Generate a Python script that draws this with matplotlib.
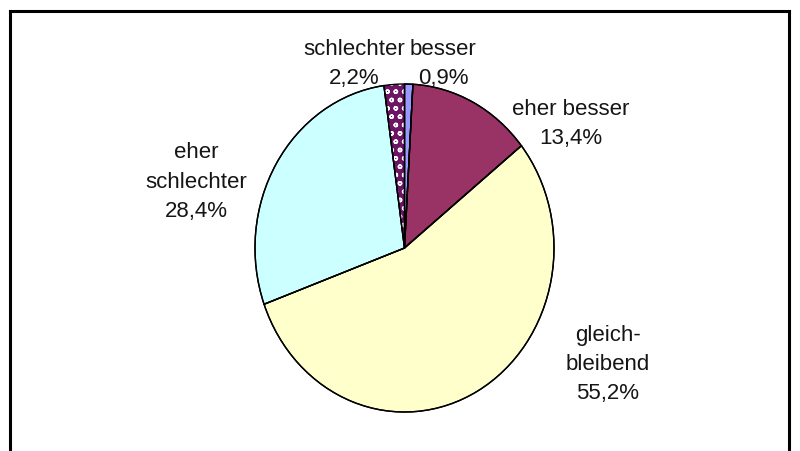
import matplotlib
matplotlib.use("Agg")
import matplotlib.pyplot as plt
from matplotlib.lines import Line2D

plt.rcParams['font.family'] = ['Liberation Sans', 'DejaVu Sans']

# daten (im uhrzeigersinn ab 12 uhr)
categories = ['besser', 'eher besser', 'gleich-\nbleibend', 'eher\nschlechter', 'schlechter']
values = [0.9, 13.4, 55.2, 28.4, 2.2]
colors = ['#9999ff', '#993366', '#ffffcc', '#ccffff', '#ffffff']

W, H = 800, 451
fig = plt.figure(figsize=(W / 100, H / 100), dpi=100)
fig.patch.set_facecolor('white')

# pie etwas hoeher als breit (wie im original)
px_left, px_right, px_top, px_bottom = 255, 554, 84, 412
ax = fig.add_axes([px_left / W, (H - px_bottom) / H,
                   (px_right - px_left) / W, (px_bottom - px_top) / H])
wedges, _ = ax.pie(values, colors=colors, startangle=90, counterclock=False,
                   wedgeprops=dict(edgecolor='black', linewidth=1.0))

# gepunktetes muster fuer "schlechter"
wedges[4].set_facecolor('#6e1466')
wedges[4].set_edgecolor('#ffffff')
wedges[4].set_hatch('oo')
wedges[4].set_linewidth(0)
ax.pie(values, colors=['none'] * 5, startangle=90, counterclock=False,
       wedgeprops=dict(edgecolor='black', linewidth=1.0, fill=False))
ax.set_aspect('auto')
ax.set_xlim(-1.0, 1.0)
ax.set_ylim(-1.0, 1.0)
ax.axis('off')

# beschriftungen (pixel-positionen der labels)
label_pos = [(443, 64), (571, 124), (608, 365), (196, 182), (354, 64)]
for cat, val, (x, y) in zip(categories, values, label_pos):
    txt = f"{cat}\n{val:.1f}%".replace('.', ',')
    fig.text(x / W, 1 - y / H, txt, ha='center', va='center',
             fontsize=16, linespacing=1.5, color='#151515')

# rahmen: links, oben, rechts
lw = 2.2
fig.add_artist(Line2D([10 / W, 10 / W], [0, 1 - 11 / H], color='black', lw=lw))
fig.add_artist(Line2D([10 / W, 789 / W], [1 - 11 / H, 1 - 11 / H], color='black', lw=lw))
fig.add_artist(Line2D([789 / W, 789 / W], [0, 1 - 11 / H], color='black', lw=lw))

fig.savefig('out.png', dpi=100)
